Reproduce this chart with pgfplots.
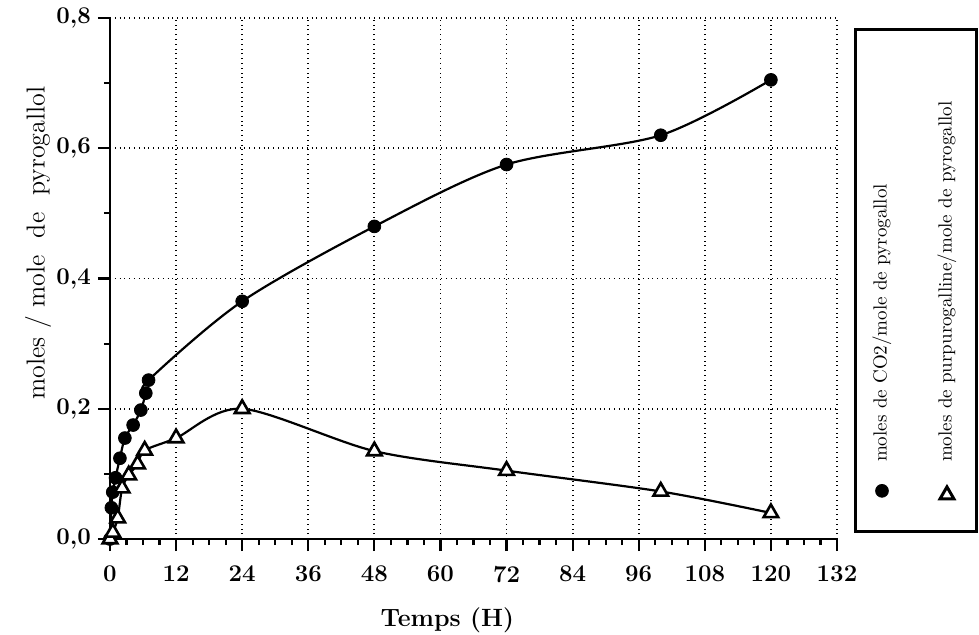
\documentclass[border=0pt]{standalone}
\usepackage{pgfplots}
\pgfplotsset{compat=1.18}

% CO2 released, moles per mole of pyrogallol
\pgfplotstableread{
t    v
0    0
0.25 0.048
0.5  0.072
1    0.094
1.8  0.124
2.7  0.155
4.2  0.175
5.6  0.198
6.5  0.224
7.0  0.244
24   0.365
48   0.480
72   0.575
100  0.620
120  0.705
}\co

% purpurogalline formed, moles per mole of pyrogallol
\pgfplotstableread{
t    v
0    0
0.5  0.010
1.4  0.032
2.2  0.078
3.4  0.098
5.0  0.115
6.3  0.136
12   0.155
24   0.200
48   0.135
72   0.105
100  0.073
120  0.040
}\purpu

\begin{document}
\begin{tikzpicture}[x=1pt,y=1pt]
\useasboundingbox (-55,-47.5) rectangle (434.5,269.5);
\begin{axis}[
    scale only axis,
    width=363.5pt, height=260.5pt,
    xmin=0, xmax=132, ymin=0, ymax=0.8,
    xtick={0,12,...,132},
    ytick={0,0.2,0.4,0.6,0.8},
    minor x tick num=3, minor y tick num=1,
    axis x line*=bottom, axis y line*=left,
    axis line style={line width=1.4pt},
    tick align=outside,
    major tick length=6pt, minor tick length=3pt,
    every tick/.style={line width=1.1pt, black},
    grid=major,
    major grid style={dotted, line width=0.9pt, black},
    clip=false,
    /pgf/number format/assume math mode=true,
    ticklabel style={font=\bfseries\fontsize{12}{14}\selectfont},
    xticklabel style={yshift=-4pt},
    yticklabel style={/pgf/number format/.cd, fixed, fixed zerofill, precision=1, use comma},
    xlabel={\textbf{Temps (H)}},
    xlabel style={at={(axis description cs:0.464,-0.155)}, anchor=center, font=\fontsize{12.5}{14}\selectfont},
    ylabel={moles\ /\ mole\ \ de\ \ pyrogallol},
    ylabel style={at={(axis description cs:-0.099,0.568)}, anchor=center, font=\fontsize{13}{15}\selectfont},
]
\addplot[black, line width=1.1pt, smooth] table[x=t, y=v] {\co};
\addplot[black, line width=1.1pt, smooth] table[x=t, y=v] {\purpu};
\addplot[only marks, mark=*, mark size=3.2pt, black] table[x=t, y=v] {\co};
\addplot[only marks, mark=triangle*, mark size=4.2pt, black, line width=1.3pt,
    mark options={fill=white}] table[x=t, y=v] {\purpu};
\end{axis}

% legend, set sideways in its own frame
\draw[line width=1.5pt] (372.5,4) rectangle (433,255);
\begin{axis}[
    at={(372.5pt,4pt)}, anchor=south west,
    scale only axis, width=60.5pt, height=251pt,
    hide axis, clip=false,
    xmin=0, xmax=1, ymin=0, ymax=1,
]
\addplot[only marks, mark=*, mark size=3.2pt, black] coordinates {(0.223,0.080)};
\addplot[only marks, mark=triangle*, mark size=4pt, black, line width=1.5pt,
    mark options={fill=white}] coordinates {(0.760,0.072)};
\node[rotate=90, anchor=west, inner sep=0pt, font=\fontsize{9.5}{11}\selectfont]
    at (axis cs:0.223,0.137) {moles de CO2/mole de pyrogallol};
\node[rotate=90, anchor=west, inner sep=0pt, font=\fontsize{9.5}{11}\selectfont]
    at (axis cs:0.760,0.137) {moles de purpurogalline/mole de pyrogallol};
\end{axis}
\end{tikzpicture}
\end{document}
